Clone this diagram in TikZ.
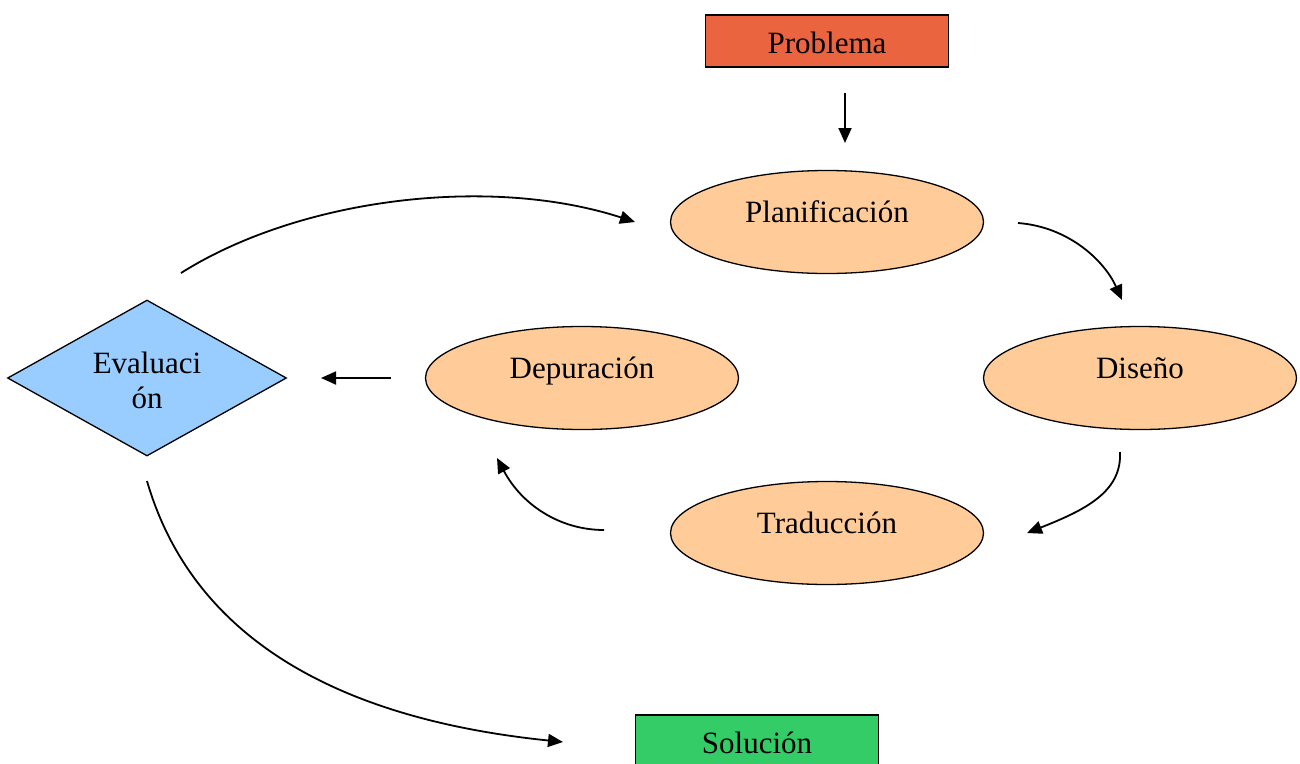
\documentclass[tikz,border=0pt]{standalone}
\usepackage{fontspec}
\setmainfont{Liberation Serif}
\usetikzlibrary{shapes.geometric,arrows.meta}
\definecolor{probfill}{HTML}{E9643F}
\definecolor{stepfill}{HTML}{FFCC99}
\definecolor{evalfill}{HTML}{99CCFF}
\definecolor{solfill}{HTML}{33CC66}
\begin{document}
\begin{tikzpicture}[x=1pt,y=-1pt,
  every node/.style={font=\fontsize{31}{35}\selectfont},
  termbox/.style={draw=black,line width=1.5pt,rectangle,minimum width=243pt,minimum height=52pt,inner sep=0pt,text height=27pt,text depth=3pt},
  phase/.style={draw=black,line width=1.3pt,ellipse,fill=stepfill,minimum width=313pt,minimum height=103pt,inner sep=0pt,text height=22pt,text depth=22pt},
  decision/.style={draw=black,line width=1.3pt,diamond,aspect=1.8,fill=evalfill,minimum width=279pt,minimum height=156pt,inner sep=0pt},
  flow/.style={line width=1.8pt,-{Triangle[length=15pt,width=13pt]}}]
\useasboundingbox (0,0) rectangle (1300,763);

% boxes and phases
\node[termbox,fill=probfill] (prob) at (827,41) {Problema};
\node[termbox,fill=solfill] (sol) at (757,741) {Solución};
\node[phase] (plan) at (827,222) {Planificación};
\node[phase] (dis) at (1140,378) {Diseño};
\node[phase] (dep) at (582,378) {Depuración};
\node[phase] (trad) at (827,533) {Traducción};
\node[decision] (eval) at (147,378)
  {\raisebox{-6pt}[\height][\depth]{\begin{tabular}{@{}c@{}}Evaluaci\\ón\end{tabular}}};

% connector end points
\coordinate (pA) at (845,93);   \coordinate (pB) at (845,143);
\coordinate (eA) at (181,273);  \coordinate (eB) at (635,222);
\coordinate (lA) at (1018,223); \coordinate (lB) at (1122,300);
\coordinate (dA) at (1120,452); \coordinate (dB) at (1027,533);
\coordinate (tA) at (604,530);  \coordinate (tB) at (497,458);
\coordinate (uA) at (391,378);  \coordinate (uB) at (321,378);
\coordinate (vA) at (147,481);  \coordinate (vB) at (563,742);

% flow arrows
\draw[flow] (pA) -- (pB);
\draw[flow] (eA) .. controls (300,198) and (490,175) .. (eB);
\draw[flow] (lA) .. controls (1070,227) and (1105,262) .. (lB);
\draw[flow] (dA) .. controls (1122,492) and (1085,510) .. (dB);
\draw[flow] (tA) .. controls (560,530) and (522,505) .. (tB);
\draw[flow] (uA) -- (uB);
\draw[flow] (vA) .. controls (185,612) and (300,715) .. (vB);
\end{tikzpicture}
\end{document}
